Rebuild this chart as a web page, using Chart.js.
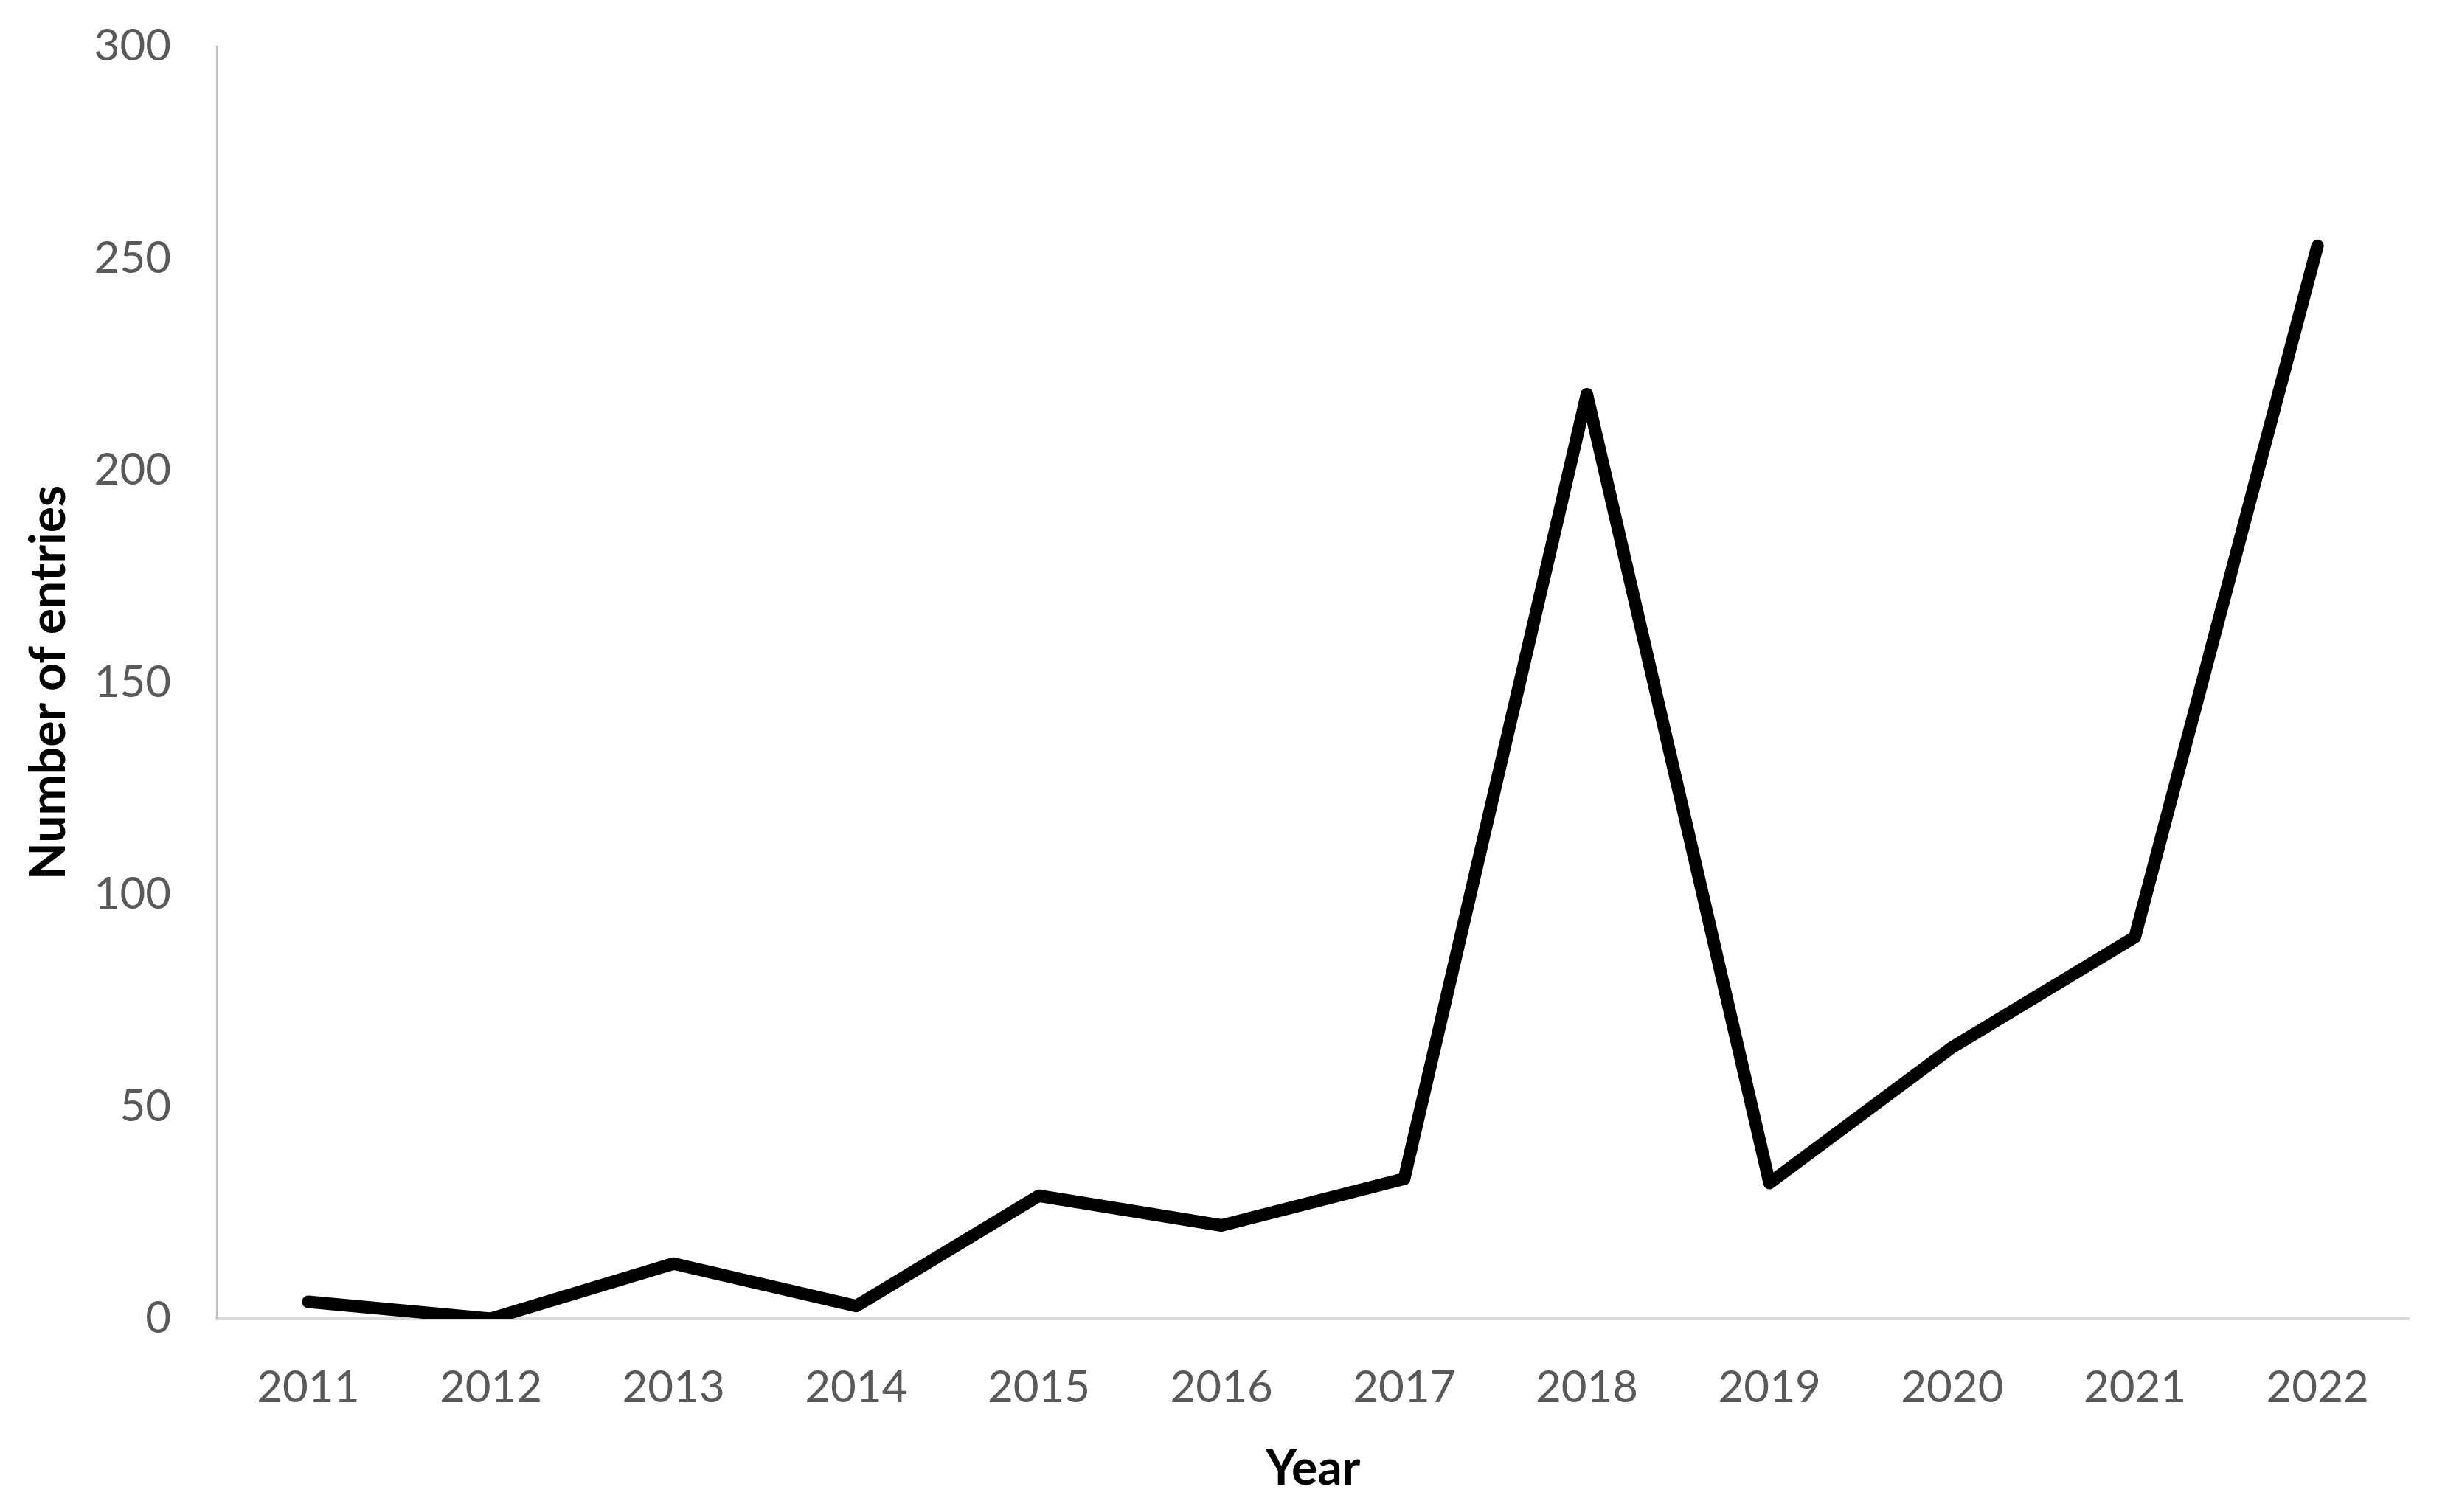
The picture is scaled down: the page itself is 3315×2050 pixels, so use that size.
<!DOCTYPE html>
<html>
<head>
<meta charset="utf-8">
<script src="https://cdn.jsdelivr.net/npm/chart.js@4"></script>
<style>
  html, body { margin: 0; padding: 0; background: #fff; overflow: hidden; }
  #wrap { width: 3315px; height: 2050px; }
</style>
</head>
<body>
<div id="wrap"><canvas id="entriesChart" width="3315" height="2050"></canvas></div>
<script>
const years = ['2011', '2012', '2013', '2014', '2015', '2016', '2017', '2018', '2019', '2020', '2021', '2022'];
const entries = [4, 0, 13, 3, 29, 22, 33, 218, 32, 64, 90, 253];
const yTicks = [0, 50, 100, 150, 200, 250, 300];

const tickFont = { family: 'Lato', size: 60 };
const titleFont = { family: 'Lato', size: 66, weight: 'bold' };

const config = {
  type: 'line',
  data: {
    labels: years,
    datasets: [{
      label: 'Number of entries',
      data: entries,
      borderColor: '#000000',
      backgroundColor: '#000000',
      borderWidth: 17,
      borderCapStyle: 'round',
      borderJoinStyle: 'round',
      pointRadius: 0,
      tension: 0,
      fill: false
    }]
  },
  options: {
    responsive: false,
    animation: false,
    layout: { padding: { top: 63, right: 49, left: 0, bottom: 0 } },
    plugins: {
      legend: { display: false },
      tooltip: { enabled: false }
    },
    scales: {
      x: {
        offset: true,
        grid: { display: false, drawTicks: false },
        border: { display: true, color: '#d9d9d9', width: 4 },
        ticks: { color: '#595959', font: tickFont, padding: 58, maxRotation: 0 },
        title: { display: true, text: 'Year', color: '#000000', font: titleFont, padding: { top: 0, bottom: 19 } },
        afterFit: (scale) => { scale.height = 262; }
      },
      y: {
        min: 0,
        max: 300,
        afterBuildTicks: (scale) => { scale.ticks = yTicks.map(v => ({ value: v })); },
        grid: { display: false, drawTicks: false },
        border: { display: true, color: '#bfbfbf', width: 2 },
        ticks: { color: '#595959', font: tickFont, padding: 62 },
        title: { display: true, text: 'Number of entries', color: '#000000', font: titleFont, padding: { top: 27, bottom: 0 } },
        afterFit: (scale) => {
          scale.width = 294;
          scale.paddingTop = 0;
          scale.paddingBottom = 0;
        }
      }
    }
  }
};

new Chart(document.getElementById('entriesChart'), config);
</script>
</body>
</html>
